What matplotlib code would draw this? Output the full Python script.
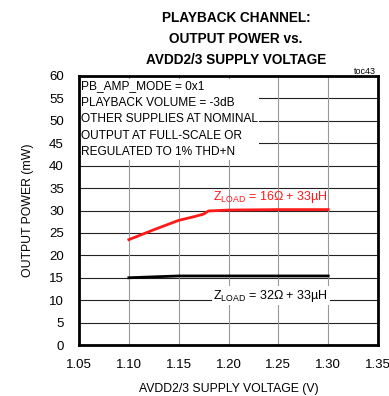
import matplotlib.pyplot as plt

plt.rcParams['font.family'] = ['Liberation Sans', 'DejaVu Sans']

# red: 16 ohm load, black: 32 ohm load
v_16 = [1.10, 1.125, 1.15, 1.165, 1.175, 1.18, 1.20, 1.25, 1.30]
p_16 = [23.5, 25.7, 27.8, 28.6, 29.2, 29.9, 30.1, 30.2, 30.2]
v_32 = [1.10, 1.15, 1.20, 1.25, 1.30]
p_32 = [15.0, 15.4, 15.4, 15.4, 15.4]

xticks = [1.05, 1.10, 1.15, 1.20, 1.25, 1.30, 1.35]
yticks = list(range(0, 61, 5))

fig = plt.figure(figsize=(3.89, 3.96), dpi=100)
ax = fig.add_axes([79/389, 51/396, 299/389, 269/396])

for y in yticks:
    ax.axhline(y, color='#222222', lw=0.8, zorder=1)
for x in xticks:
    ax.axvline(x, color='#999999', lw=0.8, zorder=1)

ax.plot(v_16, p_16, color='#ff1a1a', lw=2, zorder=3)
ax.plot(v_32, p_32, color='black', lw=2, zorder=3)

ax.set_xlim(1.05, 1.35)
ax.set_ylim(0, 60)
ax.set_xticks(xticks)
ax.set_xticklabels([f"{x:.2f}" for x in xticks])
ax.set_yticks(yticks)
ax.tick_params(length=0, labelsize=9.5)
ax.tick_params(axis='x', pad=10)
ax.tick_params(axis='y', pad=11)
for s in ax.spines.values():
    s.set_linewidth(2)
    s.set_zorder(5)

ax.set_xlabel("AVDD2/3 SUPPLY VOLTAGE (V)", fontsize=8.8, labelpad=9)
ax.set_ylabel("OUTPUT POWER (mW)", fontsize=8.8, labelpad=11)

ax.text(1.052, 59.0,
        "PB_AMP_MODE = 0x1\nPLAYBACK VOLUME = -3dB\nOTHER SUPPLIES AT NOMINAL\n"
        "OUTPUT AT FULL-SCALE OR\nREGULATED TO 1% THD+N",
        fontsize=8.6, va='top', ha='left', linespacing=1.5, zorder=4,
        bbox=dict(facecolor='white', edgecolor='none', pad=1))

ax.text(1.30, 31.2, r"Z$_{\mathregular{LOAD}}$ = 16Ω + 33µH", color='#ff1a1a',
        fontsize=9, ha='right', va='bottom', zorder=4)
ax.text(1.30, 11.0, r"Z$_{\mathregular{LOAD}}$ = 32Ω + 33µH", color='black',
        fontsize=9, ha='right', va='center', zorder=4,
        bbox=dict(facecolor='white', edgecolor='none', pad=1))

fig.text(376/389, 1 - 71/396, "toc43", fontsize=6.5, ha='right', va='center')
fig.text(236/389, 1 - 39/396,
         "PLAYBACK CHANNEL:\nOUTPUT POWER vs.\nAVDD2/3 SUPPLY VOLTAGE",
         fontsize=9.8, fontweight='bold', ha='center', va='center', linespacing=1.6)

fig.savefig("out.png", dpi=100)
